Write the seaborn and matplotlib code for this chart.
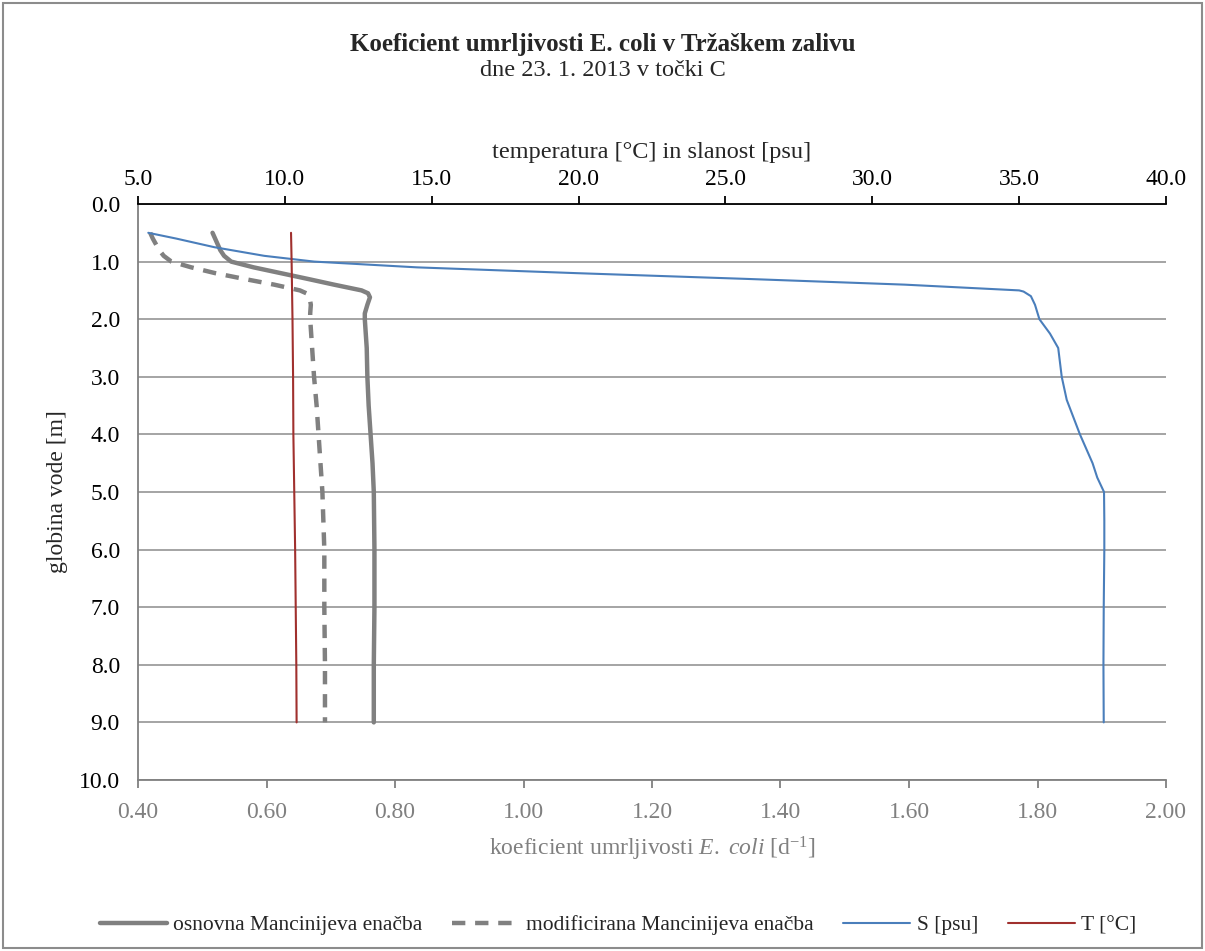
import pandas as pd
import seaborn as sns
import matplotlib.pyplot as plt
from matplotlib.lines import Line2D
from matplotlib.patches import Rectangle

# mortality coefficient profiles [1/d] vs depth [m]
depth_k = [0.5, 0.6, 0.7, 0.8, 0.9, 1.0, 1.1, 1.2, 1.3, 1.4, 1.5, 1.55, 1.62, 1.75, 1.9, 2.0,
           2.5, 3.0, 3.5, 4.0, 4.5, 5.0, 6.0, 7.0, 8.0, 9.0]
k_basic = [0.516, 0.520, 0.524, 0.528, 0.534, 0.545, 0.580, 0.622, 0.664, 0.705, 0.748, 0.758, 0.761,
           0.757, 0.753, 0.753, 0.756, 0.757, 0.759, 0.762, 0.765, 0.767, 0.768, 0.768, 0.767, 0.767]
k_modified = [0.419, 0.423, 0.428, 0.433, 0.440, 0.452, 0.483, 0.520, 0.565, 0.612, 0.652, 0.662, 0.667,
              0.669, 0.668, 0.668, 0.671, 0.674, 0.678, 0.681, 0.684, 0.687, 0.690, 0.690, 0.691, 0.691]

# salinity [psu] and temperature [°C] profiles
depth_s = [0.5, 0.6, 0.75, 0.9, 1.0, 1.1, 1.2, 1.3, 1.4, 1.5, 1.52, 1.6, 1.75, 2.0, 2.25, 2.5, 3.0,
           3.4, 4.0, 4.5, 4.75, 5.0, 5.5, 6.0, 7.0, 8.0, 9.0]
salinity = [5.35, 6.3, 7.6, 9.3, 11.0, 14.5, 19.9, 25.7, 31.1, 35.0, 35.15, 35.4, 35.54, 35.69, 36.05,
            36.33, 36.45, 36.62, 37.07, 37.5, 37.66, 37.89, 37.9, 37.9, 37.88, 37.87, 37.88]
depth_t = [0.5, 1.0, 2.0, 3.0, 4.0, 5.0, 6.0, 7.0, 8.0, 9.0]
temperature = [10.21, 10.23, 10.26, 10.28, 10.29, 10.32, 10.35, 10.37, 10.39, 10.40]

bottom_ticks = [0.40, 0.60, 0.80, 1.00, 1.20, 1.40, 1.60, 1.80, 2.00]
top_ticks = [5.0, 10.0, 15.0, 20.0, 25.0, 30.0, 35.0, 40.0]
depth_ticks = list(range(0, 11))

GREY = "#808080"
BLUE = "#4a7ebb"
RED = "#a0302e"

sns.set_style("white")
plt.rcParams['font.family'] = ['Liberation Serif', 'DejaVu Serif']
plt.rcParams['mathtext.fontset'] = 'custom'
plt.rcParams['mathtext.rm'] = 'Liberation Serif'
plt.rcParams['mathtext.it'] = 'Liberation Serif:italic'

fig = plt.figure(figsize=(12.05, 9.51), dpi=100)
ax = fig.add_axes([138 / 1205, 1 - 780 / 951, (1166 - 138) / 1205, (780 - 204) / 951])
ax2 = ax.twiny()

k_df = pd.DataFrame({'depth': depth_k, 'basic': k_basic, 'modified': k_modified})
s_df = pd.DataFrame({'depth': depth_s, 'S': salinity})
t_df = pd.DataFrame({'depth': depth_t, 'T': temperature})

sns.lineplot(data=k_df, x='basic', y='depth', ax=ax, sort=False, estimator=None,
             color=GREY, lw=3.2)
sns.lineplot(data=k_df, x='modified', y='depth', ax=ax, sort=False, estimator=None,
             color=GREY, lw=3.2, linestyle=(0, (3, 2.2)))
sns.lineplot(data=s_df, x='S', y='depth', ax=ax2, sort=False, estimator=None,
             color=BLUE, lw=1.5)
sns.lineplot(data=t_df, x='T', y='depth', ax=ax2, sort=False, estimator=None,
             color=RED, lw=1.5)

ax.set_xlim(0.40, 2.00)
ax2.set_xlim(5.0, 40.0)
ax.set_ylim(10.0, 0.0)

ax.set_xticks(bottom_ticks)
ax.set_xticklabels([f"{v:.2f}" for v in bottom_ticks])
ax2.set_xticks(top_ticks)
ax2.set_xticklabels([f"{v:.1f}" for v in top_ticks])
ax.set_yticks(depth_ticks)
ax.set_yticklabels([f"{v:.1f}" for v in depth_ticks])

ax.yaxis.grid(True, color="#8c8c8c", lw=1.1)
ax.xaxis.grid(False)
ax2.grid(False)

for a in (ax, ax2):
    for s in a.spines.values():
        s.set_visible(False)
        s.set_linewidth(1.3)
ax.spines['left'].set_visible(True)
ax.spines['left'].set_color(GREY)
ax.spines['bottom'].set_visible(True)
ax.spines['bottom'].set_color(GREY)
ax2.spines['top'].set_visible(True)
ax2.spines['top'].set_color("black")

ax.tick_params(axis='x', colors=GREY, labelcolor=GREY, direction='out', length=6, width=1.3,
               labelsize=17, pad=10)
ax.tick_params(axis='y', colors=GREY, labelcolor='black', direction='out', length=7, width=1.3,
               labelsize=17, pad=6)
ax2.tick_params(axis='x', colors='black', direction='out', length=6, width=1.3,
                labelsize=17, pad=4)

ax.set_xlabel(r"koeficient umrljivosti $\mathit{E.\ coli}$ [d$^{-1}$]", color=GREY, fontsize=17, labelpad=8)
ax.set_ylabel("globina vode [m]", fontsize=17, labelpad=8)
ax2.set_xlabel("temperatura [°C] in slanost [psu]", fontsize=17.5, labelpad=8)

fig.text(0.5, 1 - 45 / 951, "Koeficient umrljivosti E. coli v Tržaškem zalivu",
         ha='center', va='center', fontsize=18, fontweight='bold')
fig.text(0.5, 1 - 70 / 951, "dne 23. 1. 2013 v točki C", ha='center', va='center', fontsize=17.5)

handles = [Line2D([], [], color=GREY, lw=3.2),
           Line2D([], [], color=GREY, lw=3.2, linestyle=(0, (3, 2.2))),
           Line2D([], [], color=BLUE, lw=1.5),
           Line2D([], [], color=RED, lw=1.5)]
labels = ["osnovna Mancinijeva enačba", "modificirana Mancinijeva enačba", "S [psu]", "T [°C]"]
fig.legend(handles, labels, loc='center', bbox_to_anchor=(0.513, 1 - 925 / 951), ncol=4,
           frameon=False, fontsize=15.5, handlelength=3.1, handletextpad=0.3, columnspacing=1.4)

fig.patches.append(Rectangle((3 / 1205, 3 / 951), 1199 / 1205, 945 / 951, transform=fig.transFigure,
                             fill=False, edgecolor="#8c8c8c", lw=1.5))

fig.savefig("out.png", dpi=100)
